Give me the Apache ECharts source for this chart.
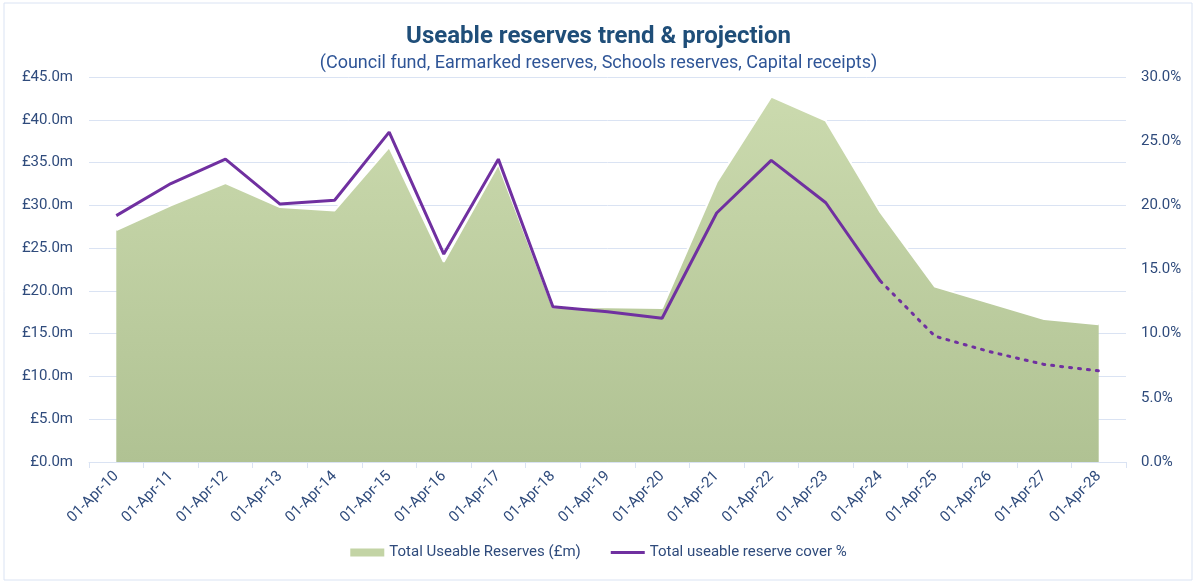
<!DOCTYPE html>
<html>
<head>
<meta charset="utf-8">
<script src="https://cdn.jsdelivr.net/npm/echarts@6/dist/echarts.min.js"></script>
<style>
  html, body { margin: 0; padding: 0; background: #fff; }
  #chart { width: 1197px; height: 584px; }
</style>
</head>
<body>
<div id="chart"></div>
<script>
// categories
const years = ['01-Apr-10','01-Apr-11','01-Apr-12','01-Apr-13','01-Apr-14','01-Apr-15','01-Apr-16',
  '01-Apr-17','01-Apr-18','01-Apr-19','01-Apr-20','01-Apr-21','01-Apr-22','01-Apr-23','01-Apr-24',
  '01-Apr-25','01-Apr-26','01-Apr-27','01-Apr-28'];
// total useable reserves, £m
const reserves = [27.1, 30.0, 32.6, 29.8, 29.4, 36.8, 23.4, 34.8, 18.1, 18.1, 18.0,
  32.7, 42.7, 39.9, 29.2, 20.5, 18.6, 16.7, 16.1];
// reserve cover, %
const cover = [19.2, 21.7, 23.6, 20.1, 20.4, 25.7, 16.2, 23.6, 12.1, 11.7, 11.2,
  19.4, 23.5, 20.2, 14.1, 9.8, 8.6, 7.6, 7.1];
// last actual year, after it the line is a projection
const lastActual = 14;

const solidCover = cover.map((v, i) => i <= lastActual ? v : '-');
const dottedCover = cover.map((v, i) => i >= lastActual ? v : '-');

const txt = '#2f4b7c';
const gridCol = '#dae3f3';

let chart = echarts.init(document.getElementById('chart'));
let option = {
  backgroundColor: '#fff',
  textStyle: { fontFamily: 'Roboto' },
  graphic: [{
    type: 'rect',
    shape: { x: 4, y: 3, width: 1188, height: 577 },
    style: { fill: 'none', stroke: gridCol, lineWidth: 1 },
    silent: true
  }],
  title: {
    text: 'Useable reserves trend & projection',
    subtext: '(Council fund, Earmarked reserves, Schools reserves, Capital receipts)',
    left: 'center',
    top: 20,
    itemGap: 5,
    textStyle: { color: '#1f4e79', fontSize: 24, fontWeight: 'bold', fontFamily: 'Roboto' },
    subtextStyle: { color: '#2f5597', fontSize: 18, fontFamily: 'Roboto' }
  },
  legend: {
    bottom: 19,
    left: 'center',
    itemGap: 30,
    itemWidth: 34,
    itemHeight: 8,
    textStyle: { color: txt, fontSize: 15 },
    data: [
      { name: 'Total Useable Reserves (£m)', icon: 'rect', itemStyle: { color: '#c3d4a5' } },
      { name: 'Total useable reserve cover %', icon: 'path://M0,3h34v3h-34z', itemStyle: { color: '#7030a0' } }
    ]
  },
  grid: { left: 89, right: 71, top: 77, bottom: 122 },
  xAxis: {
    type: 'category',
    data: years,
    boundaryGap: true,
    axisLine: { lineStyle: { color: gridCol } },
    axisTick: { show: true, length: 6, lineStyle: { color: gridCol } },
    axisLabel: { rotate: 45, color: txt, fontSize: 15, margin: 12 }
  },
  yAxis: [{
    type: 'value',
    min: 0, max: 45, interval: 5,
    axisLine: { show: false },
    axisTick: { show: false },
    splitLine: { lineStyle: { color: gridCol, width: 1 } },
    axisLabel: { color: txt, fontSize: 15, margin: 16, formatter: v => '£' + v.toFixed(1) + 'm' }
  }, {
    type: 'value',
    min: 0, max: 30, interval: 5,
    axisLine: { show: false },
    axisTick: { show: false },
    splitLine: { show: false },
    axisLabel: { color: txt, fontSize: 15, margin: 15, formatter: v => v.toFixed(1) + '%' }
  }],
  series: [
    {
      name: 'Total Useable Reserves (£m)',
      type: 'line',
      data: reserves,
      symbol: 'none',
      lineStyle: { color: '#fff', width: 2 },
      itemStyle: { color: '#c3d4a5' },
      areaStyle: {
        opacity: 1,
        color: new echarts.graphic.LinearGradient(0, 0, 0, 1, [
          { offset: 0, color: '#cbdaae' },
          { offset: 1, color: '#b0c293' }
        ], false),
        origin: 'start'
      },
      z: 1
    },
    {
      name: 'Total useable reserve cover %',
      type: 'line',
      yAxisIndex: 1,
      data: solidCover,
      symbol: 'none',
      itemStyle: { color: '#7030a0' },
      lineStyle: { color: '#7030a0', width: 3 },
      z: 3
    },
    {
      name: 'projection',
      type: 'line',
      yAxisIndex: 1,
      data: dottedCover,
      symbol: 'none',
      itemStyle: { color: '#7030a0' },
      lineStyle: { color: '#7030a0', width: 3, type: [2, 7], cap: 'round' },
      z: 3
    }
  ]
};
chart.setOption(option);
</script>
</body>
</html>
